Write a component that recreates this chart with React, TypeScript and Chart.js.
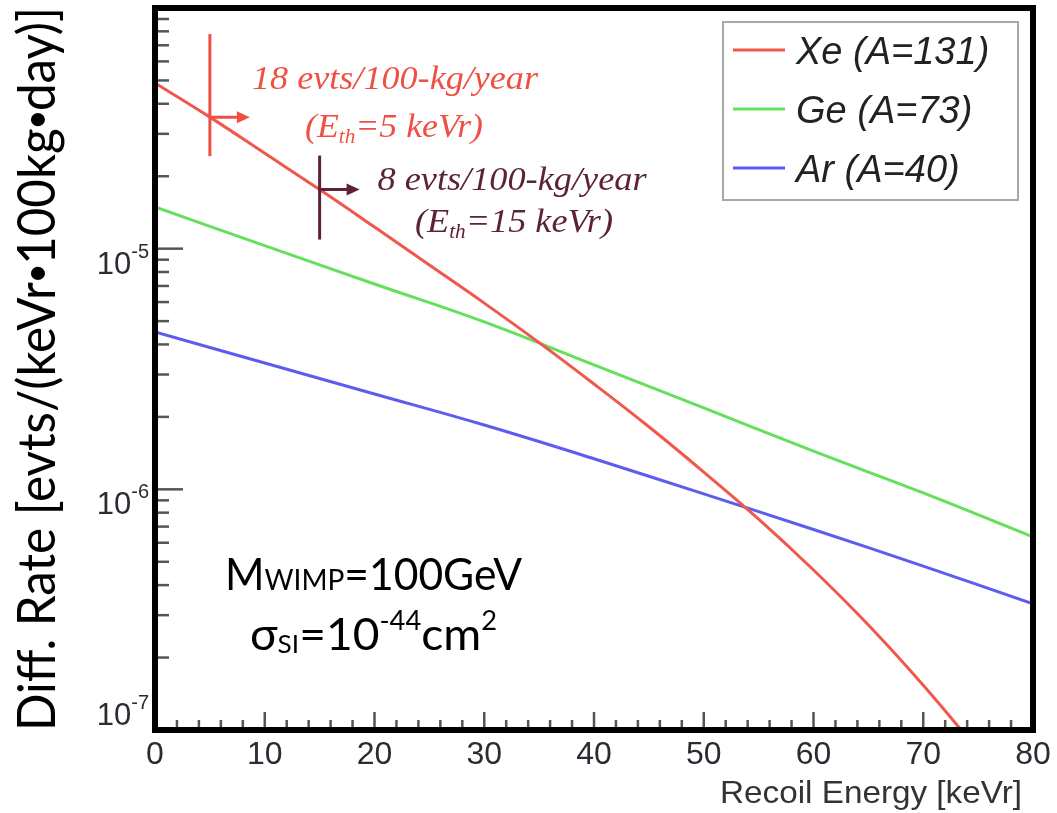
import { useEffect, useRef } from 'react';
import { Chart, registerables } from 'chart.js';

Chart.register(...registerables);

// Differential WIMP recoil rate for three targets (evts / keVr / 100 kg / day)
const xeEnergy = [0, 5, 10, 15, 20, 25, 30, 35, 40, 45, 50, 55, 60, 65, 70, 75];
const xeRate = [
  4.88e-5, 3.52e-5, 2.49e-5, 1.76e-5, 1.23e-5, 8.55e-6, 5.94e-6, 4.07e-6,
  2.74e-6, 1.82e-6, 1.18e-6, 7.52e-7, 4.62e-7, 2.73e-7, 1.535e-7, 8.24e-8,
];
const geEnergy = [0, 10, 20, 30, 40, 50, 60, 70, 80];
const geRate = [1.49e-5, 1.03e-5, 7.13e-6, 4.96e-6, 3.29e-6, 2.18e-6, 1.44e-6, 9.66e-7, 6.34e-7];
const arEnergy = [0, 10, 20, 30, 40, 50, 60, 70, 80];
const arRate = [4.51e-6, 3.35e-6, 2.49e-6, 1.85e-6, 1.34e-6, 9.57e-7, 6.81e-7, 4.8e-7, 3.34e-7];

const seriesLabels = ['Xe (A=131)', 'Ge (A=73)', 'Ar (A=40)'];
const seriesColors = ['#f0584c', '#66e05c', '#5c5cf0'];

const xTickLabels = ['0', '10', '20', '30', '40', '50', '60', '70', '80'];
const yTickExponents = [-7, -6, -5];

// Xe threshold markers: energy threshold and the integrated count quoted beside it
const thresholdEnergy = [5, 15];
const thresholdCounts = ['18 evts/100-kg/year', '8 evts/100-kg/year'];

type Run = { t: string; f: string; dy?: number };

function drawRuns(
  ctx: CanvasRenderingContext2D,
  runs: Run[],
  x: number,
  baseline: number,
  align: 'left' | 'center' | 'right',
  width?: number
) {
  let total = 0;
  const widths = runs.map((r) => {
    ctx.font = r.f;
    const w = ctx.measureText(r.t).width;
    total += w;
    return w;
  });
  const sx = width ? width / total : 1;
  const drawn = total * sx;
  let start = x;
  if (align === 'center') start = x - drawn / 2;
  if (align === 'right') start = x - drawn;
  ctx.save();
  ctx.textAlign = 'left';
  ctx.textBaseline = 'alphabetic';
  ctx.translate(start, baseline);
  ctx.scale(sx, 1);
  let cx = 0;
  runs.forEach((r, i) => {
    ctx.font = r.f;
    ctx.fillText(r.t, cx, r.dy || 0);
    cx += widths[i];
  });
  ctx.restore();
}

function arrowRight(ctx: CanvasRenderingContext2D, x0: number, y0: number, x1: number, color: string) {
  ctx.strokeStyle = color;
  ctx.fillStyle = color;
  ctx.lineWidth = 3;
  ctx.beginPath();
  ctx.moveTo(x0, y0);
  ctx.lineTo(x1 - 8, y0);
  ctx.stroke();
  ctx.beginPath();
  ctx.moveTo(x1, y0);
  ctx.lineTo(x1 - 13, y0 - 6);
  ctx.lineTo(x1 - 13, y0 + 6);
  ctx.closePath();
  ctx.fill();
}

const overlay = {
  id: 'overlay',
  afterDatasetsDraw(chart: any) {
    const { ctx, chartArea: a } = chart;
    const x = chart.scales.x;
    const y = chart.scales.y;
    ctx.save();

    // axis ticks, pointing into the frame
    ctx.strokeStyle = '#555';
    ctx.lineWidth = 2.5;
    for (let v = 0; v <= 80; v += 2) {
      const px = x.getPixelForValue(v);
      const len = v % 10 === 0 ? 18 : 10;
      ctx.beginPath();
      ctx.moveTo(px, a.bottom);
      ctx.lineTo(px, a.bottom - len);
      ctx.stroke();
    }
    for (let d = -7; d < -4; d++) {
      for (let k = 1; k <= 9; k++) {
        const py = y.getPixelForValue(k * Math.pow(10, d));
        const len = k === 1 ? 28 : 14;
        ctx.beginPath();
        ctx.moveTo(a.left, py);
        ctx.lineTo(a.left + len, py);
        ctx.stroke();
      }
    }

    // frame
    ctx.strokeStyle = '#000';
    ctx.lineWidth = 6;
    ctx.strokeRect(a.left, a.top, a.right - a.left, a.bottom - a.top);

    // x tick labels
    ctx.fillStyle = '#2b2b33';
    ctx.font = '32px "Liberation Sans", Arial, sans-serif';
    ctx.textAlign = 'center';
    ctx.textBaseline = 'alphabetic';
    xTickLabels.forEach((lab) => {
      ctx.fillText(lab, x.getPixelForValue(parseFloat(lab)), 764);
    });

    // y tick labels 10^n
    yTickExponents.forEach((e) => {
      const py = y.getPixelForValue(Math.pow(10, e));
      const base = e === -7 ? py - 5 : py + 25;
      drawRuns(
        ctx,
        [
          { t: '10', f: '31px "Liberation Sans", Arial, sans-serif' },
          { t: String(e), f: '20px "Liberation Sans", Arial, sans-serif', dy: -16 },
        ],
        149,
        base,
        'right'
      );
    });

    // axis titles
    ctx.fillStyle = '#333';
    drawRuns(ctx, [{ t: 'Recoil Energy [keVr]', f: '32px "Liberation Sans", Arial, sans-serif' }], 1022, 803, 'right', 302);

    ctx.fillStyle = '#000';
    ctx.save();
    ctx.translate(55, (a.top + a.bottom) / 2);
    ctx.rotate(-Math.PI / 2);
    const tf = '52px Lato, "Open Sans", sans-serif';
    const bf = '52px "Liberation Sans", Arial, sans-serif';
    drawRuns(
      ctx,
      [
        { t: 'Diff. Rate [evts/(keVr', f: tf },
        { t: '•', f: bf },
        { t: '100kg', f: tf },
        { t: '•', f: bf },
        { t: 'day)]', f: tf },
      ],
      0,
      0,
      'center',
      724
    );
    ctx.restore();

    // threshold markers on the Xe curve
    const markerColors = ['#ef5044', '#5c2236'];
    const reach = [
      [83, 39],
      [34, 50],
    ];
    thresholdEnergy.forEach((eth, i) => {
      const idx = xeEnergy.indexOf(eth);
      const px = x.getPixelForValue(eth);
      const py = y.getPixelForValue(xeRate[idx]);
      ctx.strokeStyle = markerColors[i];
      ctx.lineWidth = 3;
      ctx.beginPath();
      ctx.moveTo(px, py - reach[i][0]);
      ctx.lineTo(px, py + reach[i][1]);
      ctx.stroke();
      arrowRight(ctx, px, py, px + 40, markerColors[i]);
    });

    const serif = (s: number) => `italic ${s}px "Liberation Serif", "DejaVu Serif", serif`;
    ctx.fillStyle = markerColors[0];
    drawRuns(ctx, [{ t: thresholdCounts[0], f: serif(34) }], 395, 89, 'center', 286);
    drawRuns(
      ctx,
      [
        { t: '(E', f: serif(34) },
        { t: 'th', f: serif(20), dy: 6 },
        { t: `=${thresholdEnergy[0]} keVr)`, f: serif(34) },
      ],
      394,
      137,
      'center',
      178
    );
    ctx.fillStyle = markerColors[1];
    drawRuns(ctx, [{ t: thresholdCounts[1], f: serif(34) }], 512, 190, 'center', 269);
    drawRuns(
      ctx,
      [
        { t: '(E', f: serif(34) },
        { t: 'th', f: serif(20), dy: 6 },
        { t: `=${thresholdEnergy[1]} keVr)`, f: serif(34) },
      ],
      514,
      232,
      'center',
      198
    );

    // model parameters
    ctx.fillStyle = '#000';
    const gill = (s: number) => `${s}px Lato, "Open Sans", sans-serif`;
    drawRuns(
      ctx,
      [
        { t: 'M', f: gill(44) },
        { t: 'WIMP', f: gill(29) },
        { t: '=100GeV', f: gill(44) },
      ],
      225,
      590,
      'left',
      297
    );
    drawRuns(
      ctx,
      [
        { t: 'σ', f: gill(44) },
        { t: 'SI', f: gill(25), dy: 3 },
        { t: '=10', f: gill(44) },
        { t: '-44', f: gill(26), dy: -20 },
        { t: 'cm', f: gill(44) },
        { t: '2', f: gill(26), dy: -20 },
      ],
      250,
      650,
      'left',
      247
    );

    // legend
    const lx = 723, ly = 22, lw = 295, lh = 178;
    ctx.fillStyle = '#fff';
    ctx.fillRect(lx, ly, lw, lh);
    ctx.strokeStyle = '#a8a8a8';
    ctx.lineWidth = 2;
    ctx.strokeRect(lx, ly, lw, lh);
    const rows = [50, 109, 168];
    chart.data.datasets.forEach((ds: any, i: number) => {
      ctx.strokeStyle = ds.borderColor;
      ctx.lineWidth = 3;
      ctx.beginPath();
      ctx.moveTo(733, rows[i]);
      ctx.lineTo(785, rows[i]);
      ctx.stroke();
      ctx.fillStyle = '#222';
      drawRuns(ctx, [{ t: ds.label, f: 'italic 38px "Liberation Sans", Arial, sans-serif' }], 796, rows[i] + 14, 'left');
    });

    ctx.restore();
  },
};

export default function App() {
  const ref = useRef<HTMLCanvasElement | null>(null);

  useEffect(() => {
    if (!ref.current) return;
    const toPoints = (xs: number[], ys: number[]) => xs.map((v, i) => ({ x: v, y: ys[i] }));
    const chart = new Chart(ref.current, {
      type: 'line',
      data: {
        datasets: [
          { label: seriesLabels[0], data: toPoints(xeEnergy, xeRate), borderColor: seriesColors[0] },
          { label: seriesLabels[1], data: toPoints(geEnergy, geRate), borderColor: seriesColors[1] },
          { label: seriesLabels[2], data: toPoints(arEnergy, arRate), borderColor: seriesColors[2] },
        ].map((d) => ({
          ...d,
          borderWidth: 3,
          pointRadius: 0,
          fill: false,
          tension: 0.4,
          clip: 0,
        })),
      },
      options: {
        animation: false,
        responsive: false,
        events: [],
        layout: { padding: { left: 155, right: 24, top: 8, bottom: 83 } },
        plugins: { legend: { display: false }, tooltip: { enabled: false } },
        scales: {
          x: { type: 'linear', min: 0, max: 80, display: false },
          y: { type: 'logarithmic', min: 1e-7, max: 1e-4, display: false },
        },
      },
      plugins: [overlay],
    });
    return () => chart.destroy();
  }, []);

  return (
    <div style={{ position: 'absolute', left: 0, top: 0, width: 1057, height: 813, background: '#fff' }}>
      <canvas ref={ref} width={1057} height={813} />
    </div>
  );
}
